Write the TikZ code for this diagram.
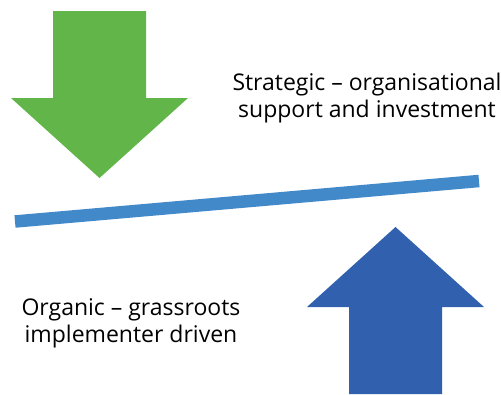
\documentclass[tikz,border=0pt]{standalone}
\usepackage{fontspec}
\setmainfont{Open Sans}
\definecolor{agreen}{RGB}{98,181,72}
\definecolor{ablue}{RGB}{49,97,174}
\definecolor{lblue}{RGB}{66,137,202}
\begin{document}
\begin{tikzpicture}[x=1pt,y=-1pt,
  lbl/.style={font=\fontsize{23}{26.8}\selectfont, align=center, inner sep=0pt, anchor=base}]
\useasboundingbox (0,0) rectangle (501,394);
% green down arrow
\fill[agreen] (53,11) -- (146,11) -- (146,98) -- (188,98) -- (99.5,178) -- (11,98) -- (53,98) -- cycle;
% blue up arrow
\fill[ablue] (349,394) -- (442,394) -- (442,307) -- (484,307) -- (395.5,227) -- (307,307) -- (349,307) -- cycle;
% balance line
\coordinate (L) at (15,221.5);
\coordinate (R) at (479,181);
\draw[lblue, line width=12.5pt] (L) -- (R);
\node[lbl] (strat) at (367,117) {Strategic – organisational\\support and investment};
\node[lbl] (org) at (131,342) {Organic – grassroots\\implementer driven};
\end{tikzpicture}
\end{document}
